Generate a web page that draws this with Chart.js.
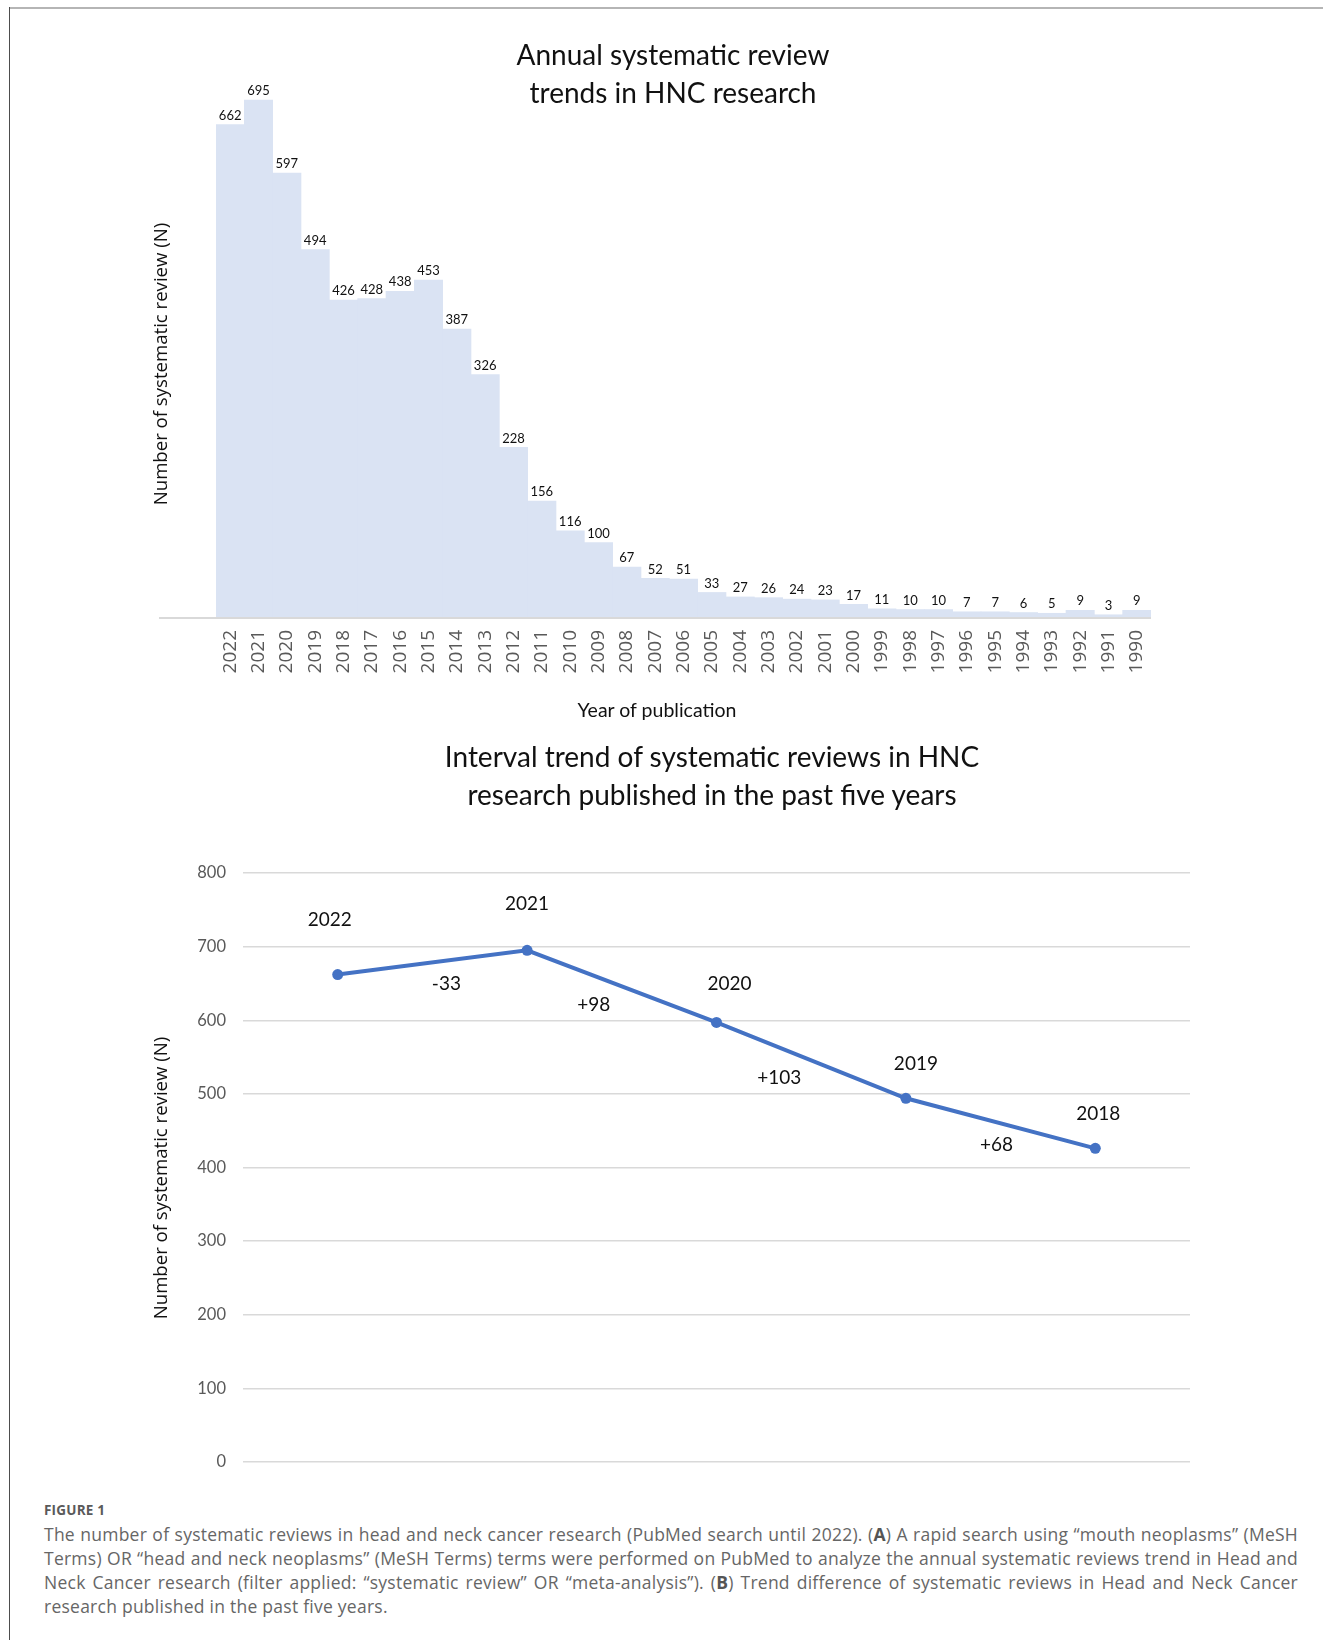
<!DOCTYPE html>
<html>
<head>
<meta charset="utf-8">
<title>Systematic reviews in HNC research</title>
<script src="https://cdn.jsdelivr.net/npm/chart.js@4.4.1/dist/chart.umd.min.js"></script>
<style>
  html, body { margin: 0; padding: 0; background: #fff; }
  body { width: 1323px; height: 1640px; position: relative; overflow: hidden; font-family: Lato, sans-serif; }
  .frame-top { position: absolute; left: 9px; top: 7px; width: 1314px; height: 2px; background: #b5b5b5; }
  .frame-left { position: absolute; left: 9px; top: 7px; width: 1px; height: 1633px; background: #4d4d4d; }
  canvas { position: absolute; left: 0; }
  #annualChart { top: 0; }
  #intervalChart { top: 810px; }
  .chart-title { position: absolute; transform: translateX(-50%); text-align: center; white-space: nowrap;
                 font-family: Lato, sans-serif; font-size: 28px; line-height: 38px; color: #111; }
  .axis-title { position: absolute; width: 420px; height: 26px; line-height: 26px; text-align: center;
                white-space: nowrap; font-family: "Open Sans", sans-serif; font-size: 18.6px; color: #111; }
  .axis-title.vertical { transform: rotate(-90deg); }
  .xaxis-title { font-family: Lato, sans-serif; font-size: 19.5px; }
  .fig-label { position: absolute; left: 44px; top: 1501px; font-family: "Open Sans", sans-serif; font-weight: 700;
               font-size: 13.5px; color: #5a5a5a; letter-spacing: 0.2px; }
  .caption { position: absolute; left: 44px; top: 1522px; width: 1254px; font-family: "Open Sans", sans-serif;
             font-size: 17.5px; letter-spacing: 0.25px; line-height: 24px; color: #666; }
  .caption div { text-align: justify; text-align-last: justify; white-space: nowrap; }
  .caption div.last { text-align-last: left; }
  .caption b { font-weight: 700; color: #555; }
</style>
</head>
<body>
<div class="frame-top"></div>
<div class="frame-left"></div>

<canvas id="annualChart" width="1323" height="740"></canvas>
<canvas id="intervalChart" width="1323" height="680"></canvas>

<div class="chart-title" style="left:673px; top:35px;">Annual systematic review<br>trends in HNC research</div>
<div class="axis-title vertical" style="left:-50px; top:351px;">Number of systematic review (N)</div>
<div class="axis-title xaxis-title" style="left:447px; top:697px;">Year of publication</div>

<div class="chart-title" style="left:712px; top:737px;">Interval trend of systematic reviews in HNC<br>research published in the past five years</div>
<div class="axis-title vertical" style="left:-50px; top:1165px;">Number of systematic review (N)</div>

<div class="fig-label">FIGURE 1</div>
<div class="caption">
  <div>The number of systematic reviews in head and neck cancer research (PubMed search until 2022). (<b>A</b>) A rapid search using “mouth neoplasms” (MeSH</div>
  <div>Terms) OR “head and neck neoplasms” (MeSH Terms) terms were performed on PubMed to analyze the annual systematic reviews trend in Head and</div>
  <div>Neck Cancer research (filter applied: “systematic review” OR “meta-analysis”). (<b>B</b>) Trend difference of systematic reviews in Head and Neck Cancer</div>
  <div class="last">research published in the past five years.</div>
</div>

<script>
// ---- Data ----
const years = ['2022','2021','2020','2019','2018','2017','2016','2015','2014','2013','2012',
               '2011','2010','2009','2008','2007','2006','2005','2004','2003','2002','2001',
               '2000','1999','1998','1997','1996','1995','1994','1993','1992','1991','1990'];
const annualCounts = [662, 695, 597, 494, 426, 428, 438, 453, 387, 326, 228,
                      156, 116, 100, 67, 52, 51, 33, 27, 26, 24, 23,
                      17, 11, 10, 10, 7, 7, 6, 5, 9, 3, 9];

const recentYears = ['2022', '2021', '2020', '2019', '2018'];
const recentCounts = [662, 695, 597, 494, 426];
const intervalTicks = [0, 100, 200, 300, 400, 500, 600, 700, 800];

// ---- Label placement (pixel nudges for the annotations of the line chart) ----
const yearLabelNudge = [[-8, -55], [0, -46], [13, -39], [10, -34], [3, -34]];
const diffLabelNudge = [[14, 21], [-28, 18], [-32, 17], [-4, 22]];

Chart.defaults.devicePixelRatio = 1;
Chart.defaults.animation = false;
Chart.defaults.font.family = 'Lato, sans-serif';

// Value labels above each bar + the long baseline of panel A
const barValueLabels = {
  id: 'barValueLabels',
  beforeDatasetsDraw(chart) {
    const { ctx, chartArea, scales } = chart;
    const y0 = scales.y.getPixelForValue(0);
    ctx.save();
    ctx.strokeStyle = '#d9d9d9';
    ctx.lineWidth = 2;
    ctx.beginPath();
    ctx.moveTo(159, y0 + 1);
    ctx.lineTo(chartArea.right, y0 + 1);
    ctx.stroke();
    ctx.restore();
  },
  afterDatasetsDraw(chart) {
    const { ctx } = chart;
    const meta = chart.getDatasetMeta(0);
    ctx.save();
    ctx.font = '13px Lato, sans-serif';
    ctx.fillStyle = '#111';
    ctx.textAlign = 'center';
    ctx.textBaseline = 'middle';
    meta.data.forEach((bar, i) => {
      ctx.fillText(String(annualCounts[i]), bar.x, bar.y - 9);
    });
    ctx.restore();
  }
};

new Chart(document.getElementById('annualChart'), {
  type: 'bar',
  data: {
    labels: years,
    datasets: [{
      data: annualCounts,
      backgroundColor: '#dae3f3',
      borderWidth: 0,
      barPercentage: 1,
      categoryPercentage: 1
    }]
  },
  options: {
    responsive: false,
    layout: { padding: { left: 216, right: 172, top: 22, bottom: 0 } },
    plugins: { legend: { display: false }, tooltip: { enabled: false } },
    scales: {
      x: {
        grid: { display: false, drawTicks: false },
        border: { display: false },
        ticks: {
          autoSkip: false, minRotation: 90, maxRotation: 90, padding: 13,
          color: '#595959', font: { family: '"Open Sans", sans-serif', size: 19 }
        },
        afterFit(scale) { scale.height = 123; }
      },
      y: {
        display: false,
        min: 0,
        max: 800
      }
    }
  },
  plugins: [barValueLabels]
});

// Year labels above points and year-over-year differences along the segments
const lineAnnotations = {
  id: 'lineAnnotations',
  afterDatasetsDraw(chart) {
    const { ctx } = chart;
    const pts = chart.getDatasetMeta(0).data;
    ctx.save();
    ctx.font = '19px Lato, sans-serif';
    ctx.fillStyle = '#111';
    ctx.textAlign = 'center';
    ctx.textBaseline = 'middle';
    pts.forEach((p, i) => {
      const [dx, dy] = yearLabelNudge[i];
      ctx.fillText(recentYears[i], p.x + dx, p.y + dy);
    });
    for (let i = 0; i < pts.length - 1; i++) {
      const diff = recentCounts[i] - recentCounts[i + 1];
      const text = (diff > 0 ? '+' : '') + diff;
      const mx = (pts[i].x + pts[i + 1].x) / 2;
      const my = (pts[i].y + pts[i + 1].y) / 2;
      const [dx, dy] = diffLabelNudge[i];
      ctx.fillText(text, mx + dx, my + dy);
    }
    ctx.restore();
  }
};

new Chart(document.getElementById('intervalChart'), {
  type: 'line',
  data: {
    labels: recentYears,
    datasets: [{
      data: recentCounts,
      borderColor: '#4472c4',
      backgroundColor: '#4472c4',
      borderWidth: 4,
      pointRadius: 5.5,
      pointBorderWidth: 0,
      pointBackgroundColor: '#4472c4',
      tension: 0,
      fill: false
    }]
  },
  options: {
    responsive: false,
    layout: { padding: { left: 0, right: 133, top: 63, bottom: 28 } },
    plugins: { legend: { display: false }, tooltip: { enabled: false } },
    scales: {
      x: { display: false, offset: true },
      y: {
        min: 0,
        max: 800,
        afterBuildTicks(scale) { scale.ticks = intervalTicks.map(v => ({ value: v })); },
        grid: { color: '#d9d9d9', lineWidth: 1.5, drawTicks: false },
        border: { display: false },
        ticks: {
          padding: 17, color: '#595959',
          font: { family: 'Lato, sans-serif', size: 16.5 }
        },
        afterFit(scale) { scale.width = 243; }
      }
    }
  },
  plugins: [lineAnnotations]
});
</script>
</body>
</html>
